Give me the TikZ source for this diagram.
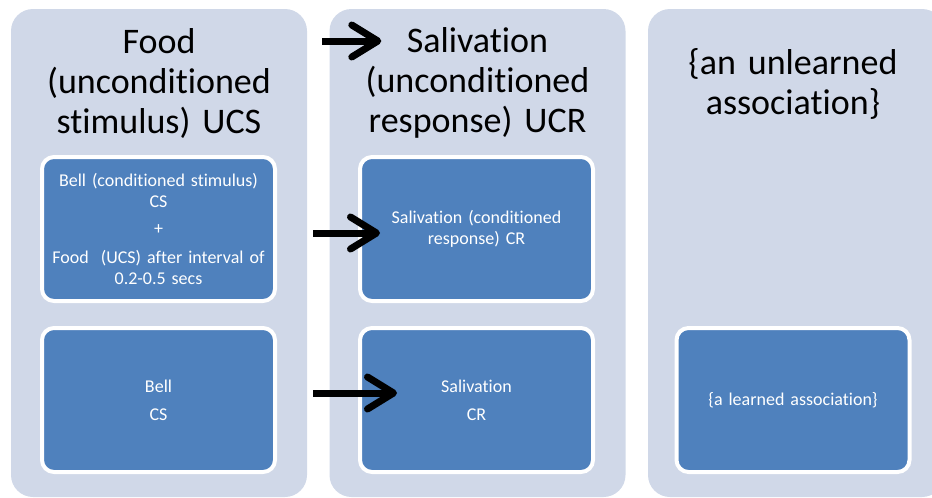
\documentclass[tikz,border=0pt]{standalone}
\usepackage{fontspec}
\setmainfont[Ligatures={NoCommon}]{Carlito}
\usetikzlibrary{arrows.meta,positioning}
\definecolor{colfill}{HTML}{D0D8E8}
\definecolor{boxfill}{HTML}{4F81BD}

\begin{document}
\begin{tikzpicture}[x=1pt,y=-1pt,
  column/.style={fill=colfill,rounded corners=22pt,minimum width=296pt,minimum height=488pt,inner sep=0pt},
  coltitle/.style={align=center,text width=290pt,font=\fontsize{36}{40}\selectfont},
  innerbox/.style={fill=boxfill,draw=white,line width=4pt,rounded corners=12pt,minimum width=233pt,minimum height=144pt,text=white,align=center,text width=225pt,font=\fontsize{18}{21}\selectfont},
  bigarrow/.style={line width=7pt,-{Straight Barb[length=26pt,width=32pt,round]}}]
\clip (0,0) rectangle (932,498);

% columns
\node [column] (ucscol) at (159,253) {};
\node [column] (ucrcol) at (477.5,253) {};
\node [column] (assoccol) at (796,253) {};

\node [coltitle] (ucs) at (159,83) {Food\\(unconditioned\\stimulus) UCS};
\node [coltitle] (ucr) at (477.5,83) {Salivation\\(unconditioned\\response) UCR};
\node [coltitle] (unlearned) at (793,84) {\{an unlearned\\association\}};

% boxes
\node [innerbox] (pair) at (158.5,229) {Bell (conditioned stimulus)\\CS\\[6pt]+\\[8pt]Food\ \ (UCS) after interval of\\0.2-0.5 secs};
\node [innerbox] (bell) at (158.5,400) {Bell\\[7pt]CS};
\node [innerbox] (cr) at (476.5,229) {Salivation (conditioned\\response) CR};
\node [innerbox] (salv) at (476.5,400) {Salivation\\[7pt]CR};
\node [innerbox] (learned) at (793,400) {\{a learned association\}};

\draw [bigarrow] ([shift={(15,-212)}]ucscol.east) -- ([shift={(52,-212)}]ucrcol.west);
\draw [bigarrow] ([shift={(36,4)}]pair.east) -- ([shift={(22,4)}]cr.west);
\draw [bigarrow] ([shift={(36,-7)}]bell.east) -- ([shift={(39,-7)}]salv.west);
\end{tikzpicture}
\end{document}
